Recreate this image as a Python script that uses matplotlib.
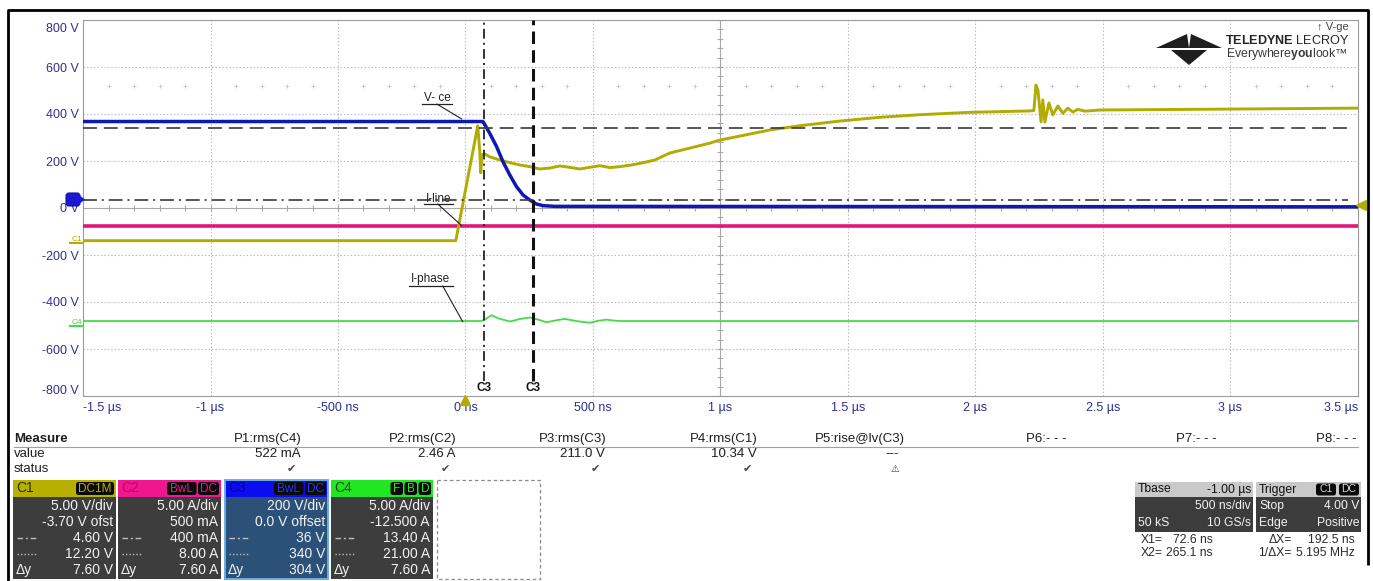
import matplotlib
matplotlib.use("Agg")
import matplotlib.pyplot as plt
from matplotlib.patches import Rectangle, Polygon, FancyBboxPatch
from matplotlib import transforms as mtrans
import numpy as np

plt.rcParams['font.family'] = ['Liberation Sans', 'DejaVu Sans']
plt.rcParams['lines.scale_dashes'] = False
plt.rcParams['mathtext.fontset'] = 'custom'
plt.rcParams['mathtext.rm'] = 'Liberation Sans'
plt.rcParams['mathtext.bf'] = 'Liberation Sans:bold'

W, H = 1373, 581

# ---------------- screen scales ----------------
t_min, t_max, t_div = -1500, 3500, 500          # ns
v_min, v_max, v_div = -800, 800, 200            # displayed volts

x_tick_labels = ["-1.5 µs", "-1 µs", "-500 ns", "0 ns", "500 ns", "1 µs",
                 "1.5 µs", "2 µs", "2.5 µs", "3 µs", "3.5 µs"]
y_tick_labels = ["-800 V", "-600 V", "-400 V", "-200 V", "0 V",
                 "200 V", "400 V", "600 V", "800 V"]

# ---------------- waveforms (time in ns, screen volts) ----------------
# C1  V-ge
vge_t = [-1500, -38, 48, 56, 60, 64, 76, 95, 135, 174, 213, 252, 291, 331, 370,
         409, 448, 487, 527, 566, 605, 645, 684, 742, 801, 880, 958, 997, 1076,
         1193, 1311, 1468, 1625, 1782, 1978, 2096, 2213, 2229, 2237, 2245, 2257,
         2264, 2272, 2288, 2303, 2323, 2343, 2362, 2382, 2401, 2429, 2488, 2880, 3500]
vge_v = [-139, -139, 350, 240, 150, 226, 230, 218, 204, 193, 183, 176, 166, 170, 179,
         173, 166, 173, 180, 172, 176, 182, 190, 204, 234, 255, 276, 289, 306,
         332, 350, 370, 386, 397, 407, 410, 413, 415, 523, 500, 367,
         460, 366, 447, 396, 434, 403, 425, 408, 420, 412, 417, 420, 425]
# C3  V-ce
vce_t = [-1500, 64, 69, 95, 122, 147, 174, 200, 226, 252, 278, 304, 350, 3500]
vce_v = [368, 368, 367, 318, 261, 197, 140, 91, 55, 34, 17, 10, 7, 5]
# C2  I-line
iline_t = [-1500, 3500]
iline_v = [-75, -75]
# C4  I-phase
iph_t = [-1500, 63, 80, 102, 130, 174, 215, 252, 285, 318, 355, 390, 440, 488,
         520, 553, 590, 620, 3500]
iph_v = [-481, -481, -472, -456, -470, -483, -472, -466, -475, -486, -478, -472,
         -482, -488, -480, -475, -480, -481, -481]

# cursors
x1_ns, x2_ns = 72.6, 265.1
y1_v, y2_v = 36, 340

# channel settings (V/div or A/div, offset)
c1_scale, c1_offset = 5.00, -3.70
c4_scale, c4_offset = 5.00, -12.500
trig_level = 4.00

# ---------------- measurement table ----------------
meas_names = ["P1:rms(C4)", "P2:rms(C2)", "P3:rms(C3)", "P4:rms(C1)",
              "P5:rise@lv(C3)", "P6:- - -", "P7:- - -", "P8:- - -"]
meas_values = ["522 mA", "2.46 A", "211.0 V", "10.34 V", "---", "", "", ""]
meas_status = ["\u2714", "\u2714", "\u2714", "\u2714", "\u26a0", "", "", ""]

c1_rows = ["5.00 V/div", "-3.70 V ofst", "4.60 V", "12.20 V", "7.60 V"]
c2_rows = ["5.00 A/div", "500 mA", "400 mA", "8.00 A", "7.60 A"]
c3_rows = ["200 V/div", "0.0 V offset", "36 V", "340 V", "304 V"]
c4_rows = ["5.00 A/div", "-12.500 A", "13.40 A", "21.00 A", "7.60 A"]

tb_rows = [("Tbase", "-1.00 µs"), ("", "500 ns/div"), ("50 kS", "10 GS/s")]
trig_rows = [("Trigger", ""), ("Stop", "4.00 V"), ("Edge", "Positive")]
cursor_rows = [("X1=", "72.6 ns", "\u0394X=", "192.5 ns"),
               ("X2=", "265.1 ns", "1/\u0394X=", "5.195 MHz")]


def screen(value, scale, offset):
    return (value + offset) / scale * v_div


C_YEL, C_BLU, C_MAG, C_GRN = '#b2ab00', '#1018b4', '#e2167e', '#45dc45'
TICK_C = '#2d3192'

fig = plt.figure(figsize=(W / 100, H / 100), dpi=100)
fig.patch.set_facecolor('white')
ax = fig.add_axes([83 / W, 1 - 396 / H, 1275 / W, 376 / H])
ax.set_xlim(t_min, t_max)
ax.set_ylim(v_min, v_max)

# graticule
t_center = (t_min + t_max) / 2
for t in np.arange(t_min + t_div, t_max, t_div):
    if t == t_center:
        ax.axvline(t, color='#a8a8a8', lw=0.8, zorder=1)
    else:
        ax.axvline(t, color='#b8b8b8', lw=0.8, ls=(0, (1, 1.5)), zorder=1)
for v in np.arange(v_min + v_div, v_max, v_div):
    if v == 0:
        ax.axhline(v, color='#a8a8a8', lw=0.8, zorder=1)
    else:
        ax.axhline(v, color='#b8b8b8', lw=0.8, ls=(0, (1, 1.5)), zorder=1)
minor_t = np.arange(t_min, t_max + 1, t_div / 5)
minor_v = np.arange(v_min, v_max + 1, v_div / 5)
ax.plot(minor_t, np.zeros_like(minor_t), ls='none', marker='|', ms=4, mew=0.8,
        color='#a8a8a8', zorder=1)
ax.plot(np.full_like(minor_v, t_center), minor_v, ls='none', marker='_', ms=4,
        mew=0.8, color='#a8a8a8', zorder=1)
dots_t = np.array([t for t in minor_t[1:-1] if t % t_div != 0])
ax.plot(dots_t, np.full_like(dots_t, 519.0), ls='none', marker='+', ms=3,
        mew=0.6, color='#c4c4c4', zorder=1)

for s in ax.spines.values():
    s.set_color('#9a9a9a')
    s.set_linewidth(0.8)

ax.set_xticks(np.arange(t_min, t_max + 1, t_div))
ax.set_xticklabels(x_tick_labels)
ax.set_yticks(np.arange(v_min, v_max + 1, v_div))
ax.set_yticklabels(y_tick_labels)
ax.tick_params(length=0, labelsize=9, labelcolor=TICK_C)
ax.tick_params(axis='x', pad=4)
ax.tick_params(axis='y', pad=3)
xl = ax.get_xticklabels()
xl[0].set_ha('left')
xl[-1].set_ha('right')
yl = ax.get_yticklabels()
yl[0].set_transform(yl[0].get_transform() + mtrans.ScaledTranslation(0, 0.07, fig.dpi_scale_trans))
yl[-1].set_transform(yl[-1].get_transform() + mtrans.ScaledTranslation(0, -0.07, fig.dpi_scale_trans))

# traces
ax.plot(iline_t, iline_v, color=C_MAG, lw=2.6, zorder=3)
ax.plot(iph_t, iph_v, color=C_GRN, lw=1.3, zorder=3)
ax.plot(vge_t, vge_v, color=C_YEL, lw=2.1, zorder=4)
ax.plot(vce_t, vce_v, color=C_BLU, lw=2.5, zorder=5)

# cursors
ax.hlines(y2_v, t_min, t_max - 40, colors='#3a3a3a', lw=1.2, linestyles=[(0, (10, 5))], zorder=6)
ax.hlines(y1_v, t_min, t_max - 40, colors='#3a3a3a', lw=1.2, linestyles=[(0, (10, 3.5, 1.5, 3.5))], zorder=6)
ax.vlines(x1_ns, -735, v_max, colors='#222222', lw=1.3, linestyles=[(0, (7, 3, 1.5, 3))], zorder=6)
ax.vlines(x2_ns, -735, v_max, colors='#111111', lw=2.2, linestyles=[(0, (9, 4.5))], zorder=6)
for xc in (x1_ns, x2_ns):
    ax.text(xc, -768, 'C3', ha='center', va='center', fontsize=8.5, fontweight='bold',
            color='#111111', zorder=7)

# trace labels with leaders
labels = [("V- ce", -111, 468, -171, -53, 442, -112, -15, 379),
          ("I-line", -107, 38, -164, -50, 17, -109, -15, -75),
          ("I-phase", -136, -302, -222, -50, -332, -89, -11, -484)]
for txt, tx, ty, u0, u1, uy, l0x, l1x, l1y in labels:
    ax.text(tx, ty, txt, ha='center', va='center', fontsize=8.5, color='#222222', zorder=8)
    ax.plot([u0, u1], [uy, uy], color='#222222', lw=0.9, zorder=8)
    ax.plot([l0x, l1x], [uy, l1y], color='#222222', lw=0.8, zorder=8)

# trigger markers
ax.plot([0], [v_min], marker='^', ms=7, color=C_YEL, clip_on=False, zorder=9,
        transform=ax.transData + mtrans.ScaledTranslation(0, -0.04, fig.dpi_scale_trans))
ax.plot([t_max], [screen(trig_level, c1_scale, c1_offset)], marker='<', ms=7, color=C_YEL,
        clip_on=False, zorder=9,
        transform=ax.transData + mtrans.ScaledTranslation(0.03, 0, fig.dpi_scale_trans))

# ---------------- overlay in pixel units ----------------
ov = fig.add_axes([0, 0, 1, 1], zorder=5)
ov.set_xlim(0, W)
ov.set_ylim(H, 0)
ov.axis('off')
ov.patch.set_alpha(0)
mix = mtrans.blended_transform_factory(ov.transData, ax.transData)

# outer frame
ov.plot([8, 8, 1368, 1368], [H, 10, 10, 565], color='black', lw=2, solid_capstyle='butt')

# channel ground markers
c1_zero = screen(0, c1_scale, c1_offset)
c4_zero = screen(0, c4_scale, c4_offset)
ov.plot([70, 83], [c1_zero, c1_zero], color=C_YEL, lw=1.5, transform=mix, clip_on=False)
ov.text(77, c1_zero, 'C1', color=C_YEL, fontsize=6, ha='center', va='bottom', transform=mix)
ov.plot([70, 83], [c4_zero, c4_zero], color=C_GRN, lw=1.5, transform=mix, clip_on=False)
ov.text(77, c4_zero, 'C4', color=C_GRN, fontsize=6, ha='center', va='bottom', transform=mix)
ov.add_patch(FancyBboxPatch((66, 193), 14, 13, boxstyle="round,pad=0,rounding_size=3",
                            facecolor='#1a1ad2', edgecolor='#1010a0', lw=0.8))
ov.add_patch(Polygon([(79, 195), (85, 199.5), (79, 204)], closed=True, facecolor='#1a1ad2'))

# logo
logo_c = '#1e1e1e'
for pts in ([(1156, 48), (1187, 34), (1189, 48)],
            [(1222, 48), (1191, 34), (1189, 48)],
            [(1171, 49.5), (1188.6, 49.5), (1188.6, 65)],
            [(1207, 49.5), (1189.4, 49.5), (1189.4, 65)]):
    ov.add_patch(Polygon(pts, closed=True, facecolor=logo_c, edgecolor='none'))

renderer = fig.canvas.get_renderer()


def fitted_text(x, y, s, target_w, **kw):
    """Left-aligned text sized so that it spans target_w pixels."""
    t = ov.text(x, y, s, fontsize=10, ha='left', va='center', **kw)
    bb = t.get_window_extent(renderer)
    t.set_fontsize(10 * target_w / bb.width)
    return t


fitted_text(1225, 41, r"$\mathbf{TELEDYNE}$ LECROY", 124, color='#262626')
fitted_text(1226, 54, "Everywhere$\\mathbf{you}$look\u2122", 122, color='#3a3a3a')
ov.text(1349, 27, "\u2191 V-ge", fontsize=8, ha='right', va='center', color='#444444')

# measurement table
TXT = '#1e1e1e'
ov.text(14, 439, "Measure", fontsize=9.5, fontweight='bold', va='center', color=TXT)
ov.text(14, 454, "value", fontsize=9.5, va='center', color=TXT)
ov.text(14, 469, "status", fontsize=9.5, va='center', color=TXT)
ov.plot([14, 1358], [446.5, 446.5], color='#a0a0a0', lw=0.8)
col_right = [302, 456, 606, 758, 905, 1067, 1217, 1357]
for xr, nm, val, st in zip(col_right, meas_names, meas_values, meas_status):
    ov.text(xr, 439, nm, fontsize=9.5, ha='right', va='center', color=TXT)
    if val:
        ov.text(xr - 1 if val != '---' else xr - 6, 454, val, fontsize=9.5,
                ha='right', va='center', color=TXT)
    if st:
        ov.text(xr - 6, 469, st, fontsize=8 if st == '\u2714' else 7,
                ha='right', va='center', color='#444444')

# channel descriptor boxes
chan_specs = [
    (13, 116, '#b8b000', 'C1', '#2e2e00', ['DC1M'], '#b8b000', '#3d3d3d', c1_rows, None),
    (118, 221, '#f0168e', 'C2', '#c8006a', ['BwL', 'DC'], '#f0168e', '#3d3d3d', c2_rows, None),
    (225, 328, '#0c0cf0', 'C3', '#0000a8', ['BwL', 'DC'], '#2a36ff', '#2c5179', c3_rows, '#6aaee0'),
    (331, 433, '#22e622', 'C4', '#1a4a1a', ['F', 'B', 'D'], '#22e622', '#3d3d3d', c4_rows, None),
]
HDR_Y, HDR_H, BODY_H = 480, 17, 82
row_y = [506, 522, 538, 554, 570]
for x0, x1, hc, nm, nmc, badges, bc, body, rows, border in chan_specs:
    w = x1 - x0
    ov.add_patch(Rectangle((x0, HDR_Y), w, HDR_H, facecolor=hc, edgecolor='none'))
    ov.add_patch(Rectangle((x0, HDR_Y + HDR_H), w, BODY_H, facecolor=body, edgecolor='none'))
    if border:
        ov.add_patch(Rectangle((x0, HDR_Y), w, HDR_H + BODY_H, facecolor='none',
                               edgecolor=border, lw=1.4))
    ov.text(x0 + 3, HDR_Y + HDR_H / 2, nm, fontsize=10, va='center', color=nmc)
    xr = x1 - 2
    for b in reversed(badges):
        bw = 4 + 8.5 * len(b)
        ov.add_patch(FancyBboxPatch((xr - bw, HDR_Y + 2), bw, HDR_H - 4,
                                    boxstyle="round,pad=0,rounding_size=2.5",
                                    facecolor='#0a0a0a', edgecolor='none'))
        ov.text(xr - bw / 2, HDR_Y + HDR_H / 2, b, fontsize=8.5, ha='center', va='center', color=bc)
        xr -= bw + 1.5
    for ry, s in zip(row_y, rows):
        ov.text(x1 - 3, ry, s, fontsize=10, ha='right', va='center', color='#f2f2f2')
    ov.plot([x0 + 4, x0 + 24], [row_y[2], row_y[2]], color='#bdbdbd', lw=1,
            ls=(0, (4, 2, 1.5, 2)))
    ov.plot([x0 + 4, x0 + 24], [row_y[3], row_y[3]], color='#bdbdbd', lw=1, ls=(0, (1, 1.5)))
    ov.text(x0 + 3, row_y[4], "\u0394y", fontsize=10, va='center', color='#f2f2f2')
ov.add_patch(Rectangle((437, HDR_Y), 103, HDR_H + BODY_H, facecolor='none', edgecolor='#8a8a8a',
                       lw=0.9, ls=(0, (2.5, 2))))


# timebase / trigger boxes
def info_box(x0, x1, rows, badges=None):
    ov.add_patch(Rectangle((x0, 482), x1 - x0, 15, facecolor='#c9c9c9', edgecolor='none'))
    ov.add_patch(Rectangle((x0, 497), x1 - x0, 35, facecolor='#3c3c3c', edgecolor='none'))
    for (l, r), y, c in zip(rows, [489.5, 506, 523], ['#111111', '#f2f2f2', '#f2f2f2']):
        if l:
            ov.text(x0 + 3, y, l, fontsize=8.7, va='center', color=c)
        if r:
            ov.text(x1 - 2, y, r, fontsize=8.7, ha='right', va='center', color=c)
    if badges:
        xr = x1 - 2
        for b in reversed(badges):
            bw = 4 + 8 * len(b)
            ov.add_patch(FancyBboxPatch((xr - bw, 483.5), bw, 12,
                                        boxstyle="round,pad=0,rounding_size=2.5",
                                        facecolor='#0a0a0a', edgecolor='none'))
            ov.text(xr - bw / 2, 489.5, b, fontsize=7.5, ha='center', va='center', color='#d8d8d8')
            xr -= bw + 3


info_box(1135, 1253, tb_rows)
info_box(1256, 1361, trig_rows, badges=['C1', 'DC'])
for y, (a, b, c, d) in zip([540, 553], cursor_rows):
    ov.text(1141, y, a, fontsize=8.7, va='center', color='#2a2a2a')
    ov.text(1213, y, b, fontsize=8.7, ha='right', va='center', color='#2a2a2a')
    ov.text(1292, y, c, fontsize=8.7, ha='right', va='center', color='#2a2a2a')
    ov.text(1355, y, d, fontsize=8.7, ha='right', va='center', color='#2a2a2a')

fig.savefig("out.png", dpi=100)
